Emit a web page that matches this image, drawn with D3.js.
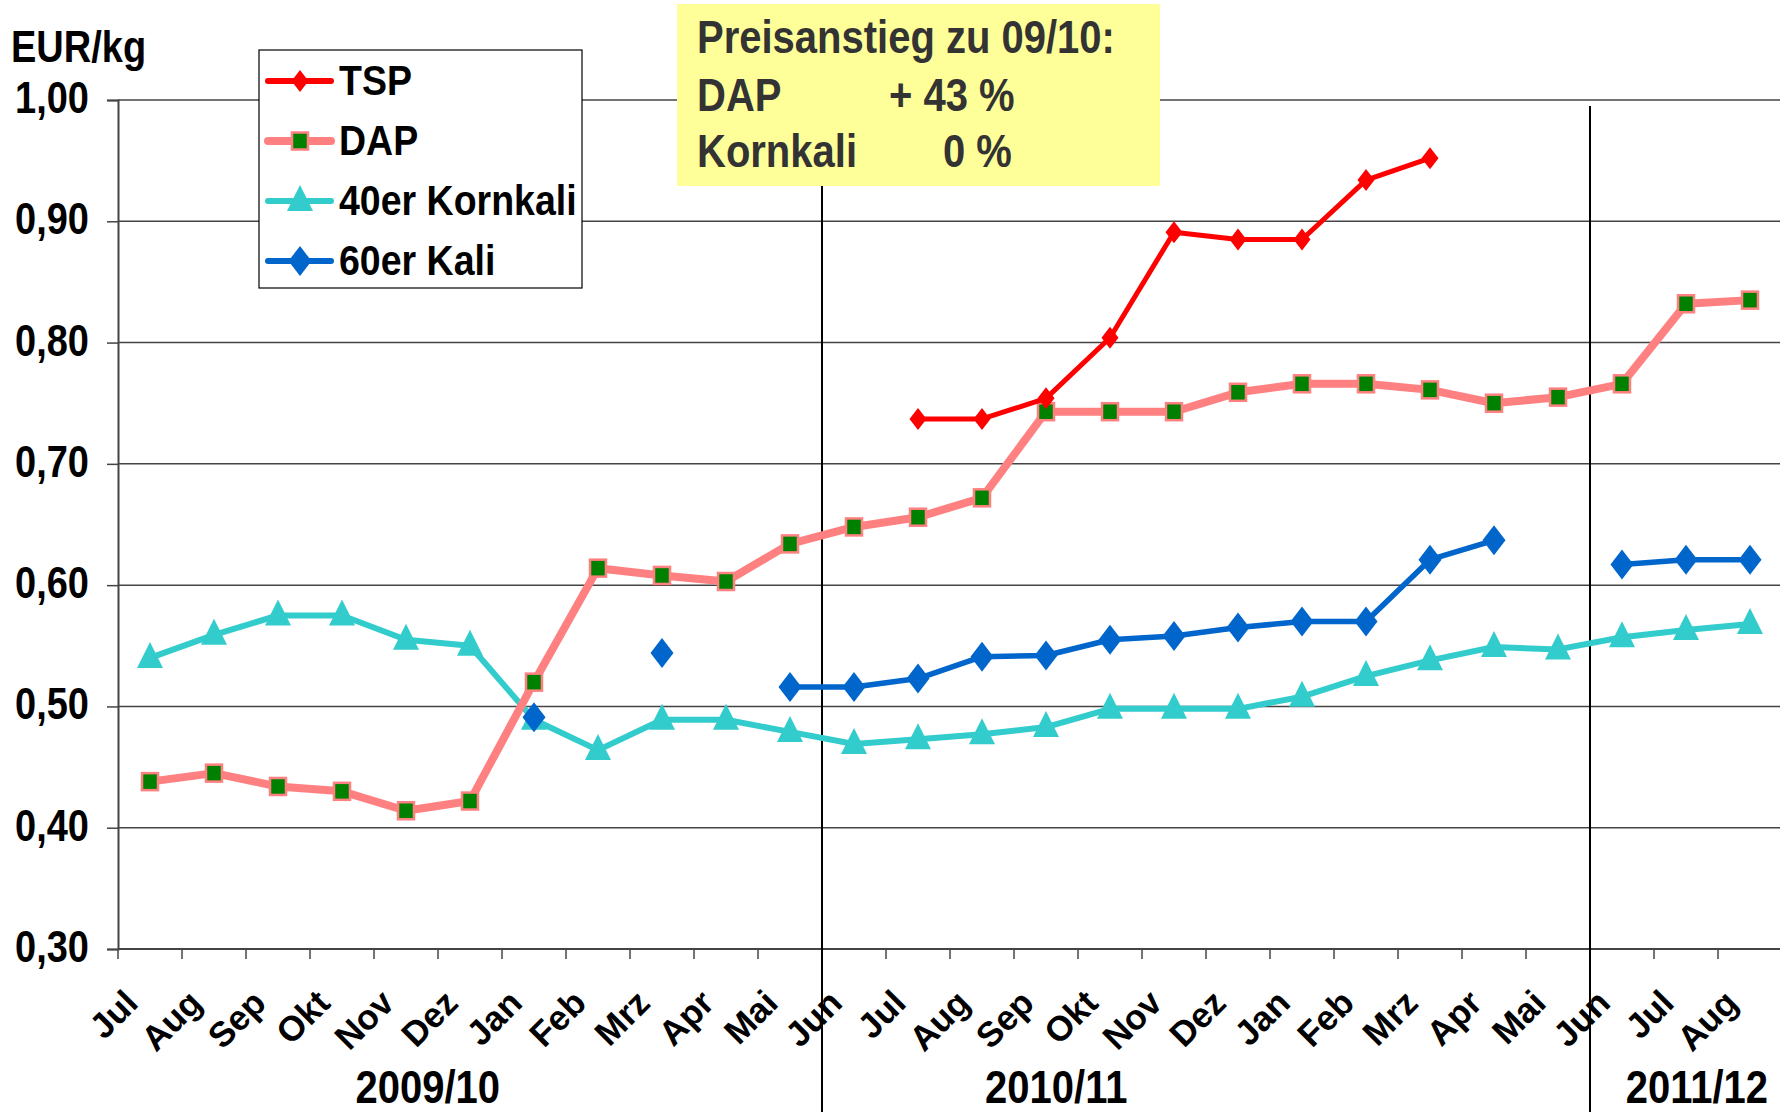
<html>
<head>
<meta charset="utf-8">
<script src="https://cdn.jsdelivr.net/npm/d3@7"></script>
<style>
  body { margin: 0; background: #fff; }
  svg text { font-family: "Liberation Sans", Arial, sans-serif; font-weight: bold; }
</style>
</head>
<body>
<div id="chart"></div>
<script>
// months Jul 2009 .. Aug 2011
var months = ["Jul","Aug","Sep","Okt","Nov","Dez","Jan","Feb","Mrz","Apr","Mai","Jun",
              "Jul","Aug","Sep","Okt","Nov","Dez","Jan","Feb","Mrz","Apr","Mai","Jun",
              "Jul","Aug"];
var seasons = ["2009/10", "2010/11", "2011/12"];
var yTicks = [0.3, 0.4, 0.5, 0.6, 0.7, 0.8, 0.9, 1.0];

var tsp = [null,null,null,null,null,null,null,null,null,null,null,null,
           0.737,0.737,0.754,0.804,0.891,0.885,0.885,0.934,0.952,null,null,null,
           null,null];
var dap = [0.438,0.445,0.434,0.430,0.414,0.422,0.520,0.614,0.608,0.603,0.634,0.648,
           0.656,0.672,0.743,0.743,0.743,0.759,0.766,0.766,0.761,0.750,0.755,0.766,
           0.832,0.835];
var kornkali = [0.540,0.559,0.575,0.575,0.555,0.550,0.489,0.464,0.489,0.489,0.479,0.469,
                0.473,0.477,0.483,0.498,0.498,0.498,0.508,0.525,0.538,0.549,0.547,0.557,
                0.563,0.568];
var kali = [null,null,null,null,null,null,0.491,null,0.544,null,0.516,0.516,
            0.523,0.541,0.542,0.555,0.558,0.565,0.570,0.570,0.621,0.637,null,0.617,
            0.621,0.621];

var W = 1780, H = 1112;
var svg = d3.select("#chart").append("svg").attr("width", W).attr("height", H);

var x = d3.scaleBand().domain(d3.range(months.length)).range([118, 1782]);
var y = d3.scaleLinear().domain([0.3, 1.0]).range([949, 100]);
var bw = x.bandwidth();
var cx = function(i) { return x(i) + bw / 2; };

// text is slightly stretched vertically in the original
var STRETCH = 1.15;
function label(g, px, py, txt, size, anchor, color) {
  return g.append("text")
    .attr("transform", "translate(" + px + "," + py + ") scale(1," + STRETCH + ")")
    .attr("text-anchor", anchor || "start")
    .style("font-size", size + "px")
    .style("fill", color || "#000")
    .text(txt);
}

// gridlines
svg.append("g").selectAll("line").data(yTicks).join("line")
  .attr("x1", x.range()[0]).attr("x2", W)
  .attr("y1", d => y(d)).attr("y2", d => y(d))
  .attr("stroke", "#444").attr("stroke-width", d => d == 0.3 ? 2 : 1.5);

// y axis
var fmt = d3.formatLocale({decimal: ",", thousands: ".", grouping: [3], currency: ["", "€"]}).format(".2f");
var yAxis = svg.append("g").attr("transform", "translate(" + x.range()[0] + ",0)")
  .call(d3.axisLeft(y).tickValues(yTicks).tickSize(11).tickFormat(""));
yAxis.select(".domain").attr("stroke", "#444").attr("stroke-width", 2);
yAxis.selectAll(".tick line").attr("stroke", "#444").attr("stroke-width", 1.5);
yTicks.forEach(function(t) {
  label(svg, 89, y(t) + 13, fmt(t), 38, "end");
});
label(svg, 11, 62, "EUR/kg", 38, "start");

// x ticks at category boundaries
var xt = svg.append("g");
d3.range(months.length + 1).forEach(function(i) {
  var px = i < months.length ? x(i) : x.range()[1];
  xt.append("line").attr("x1", px).attr("x2", px).attr("y1", y(0.3)).attr("y2", y(0.3) + 10)
    .attr("stroke", "#444").attr("stroke-width", 1.5);
});
months.forEach(function(m, i) {
  xt.append("text")
    .attr("transform", "translate(" + (cx(i) - 10) + "," + (y(0.3) + 56) + ") rotate(-45)")
    .attr("text-anchor", "end")
    .style("font-size", "35px")
    .text(m);
});

// season separators (after Mai 2010 and Mai 2011)
[11, 23].forEach(function(i) {
  svg.append("line").attr("x1", x(i)).attr("x2", x(i)).attr("y1", 106).attr("y2", H)
    .attr("stroke", "#000").attr("stroke-width", 2);
});
var seasonPos = [4.84, 14.66, 24.67];
seasons.forEach(function(s, i) {
  label(svg, x.range()[0] + seasonPos[i] * bw, 1103, s, 40, "middle");
});

// series
var series = [
  {name: "TSP", data: tsp, color: "#FF0000", width: 5, marker: "tsp"},
  {name: "DAP", data: dap, color: "#FF8080", width: 8, marker: "square"},
  {name: "40er Kornkali", data: kornkali, color: "#33CCCC", width: 6, marker: "tri"},
  {name: "60er Kali", data: kali, color: "#0066CC", width: 5.5, marker: "diamond"}
];

function drawMarker(g, type) {
  if (type == "square") {
    g.append("rect").attr("x", -8).attr("y", -8.5).attr("width", 16).attr("height", 17)
      .attr("fill", "#008000").attr("stroke", "#FF8080").attr("stroke-width", 2.5);
  } else if (type == "tri") {
    g.append("path").attr("d", "M0,-16 L13,10 L-13,10 Z").attr("fill", "#33CCCC");
  } else if (type == "diamond") {
    g.append("path").attr("d", "M0,-15 L11.5,0 L0,15 L-11.5,0 Z").attr("fill", "#0066CC");
  } else if (type == "tsp") {
    g.append("path").attr("d", "M0,-11 L8.5,0 L0,11 L-8.5,0 Z").attr("fill", "#FF0000");
  }
}

var line = d3.line().defined(d => d.v != null).x(d => cx(d.i)).y(d => y(d.v));

// draw order: Kornkali, Kali, DAP, TSP (DAP above cyan, TSP on top)
[2, 3, 1, 0].forEach(function(k) {
  var s = series[k];
  var pts = s.data.map((v, i) => ({i: i, v: v}));
  svg.append("path").datum(pts).attr("d", line)
    .attr("fill", "none").attr("stroke", s.color).attr("stroke-width", s.width)
    .attr("stroke-linejoin", "round");
  pts.filter(d => d.v != null).forEach(function(d) {
    drawMarker(svg.append("g").attr("transform", "translate(" + cx(d.i) + "," + y(d.v) + ")"), s.marker);
  });
});

// legend
var lg = svg.append("g");
lg.append("rect").attr("x", 259).attr("y", 50).attr("width", 323).attr("height", 238)
  .attr("fill", "#fff").attr("stroke", "#000").attr("stroke-width", 1.2);
series.forEach(function(s, i) {
  var ry = 81 + i * 60;
  lg.append("line").attr("x1", 268).attr("x2", 331).attr("y1", ry).attr("y2", ry)
    .attr("stroke", s.color).attr("stroke-width", Math.max(s.width, 6)).attr("stroke-linecap", "round");
  drawMarker(lg.append("g").attr("transform", "translate(300," + ry + ")"), s.marker);
  label(lg, 339, ry + 14, s.name, 37.5, "start");
});

// note box
var nb = svg.append("g");
nb.append("rect").attr("x", 677).attr("y", 4).attr("width", 483).attr("height", 182).attr("fill", "#FFFF99");
label(nb, 697, 53, "Preisanstieg zu 09/10:", 40, "start", "#333");
label(nb, 697, 111, "DAP", 40, "start", "#333");
label(nb, 889, 111, "+ 43 %", 40, "start", "#333");
label(nb, 697, 167, "Kornkali", 40, "start", "#333");
label(nb, 943, 167, "0 %", 40, "start", "#333");
</script>
</body>
</html>
